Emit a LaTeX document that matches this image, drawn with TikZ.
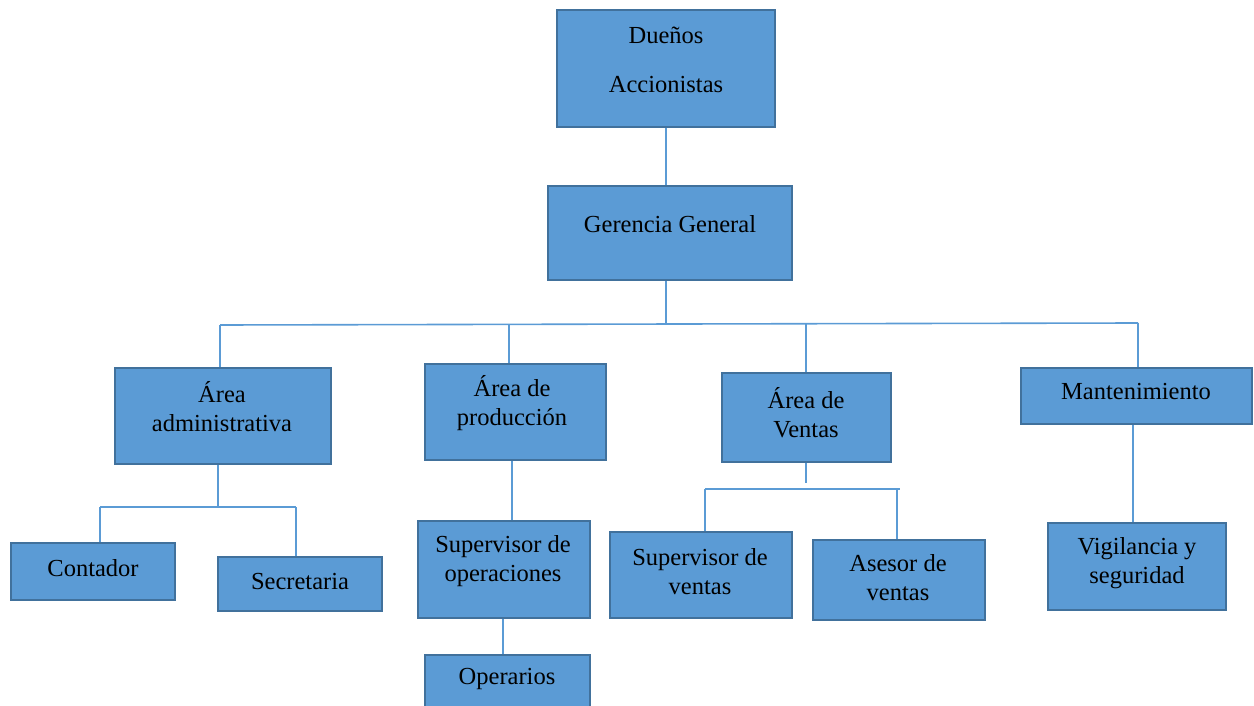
\documentclass[tikz,border=0pt]{standalone}
\usepackage{fontspec}
\setmainfont{Liberation Serif}
\definecolor{boxfill}{HTML}{5B9BD5}
\definecolor{boxline}{HTML}{41719C}
\definecolor{conn}{HTML}{5B9BD5}
\tikzset{
  orgbox/.style={draw=boxline, fill=boxfill, line width=1.5pt, inner sep=0pt, rectangle},
  lbl/.style={font=\fontsize{24.5}{29}\selectfont, align=center, inner sep=0pt, text=black},
  link/.style={draw=conn, line width=1.6pt}
}
\begin{document}
\begin{tikzpicture}[x=1pt,y=-1pt]
\useasboundingbox (0,0) rectangle (1254,706);
% boxes
\node[orgbox, minimum width=218pt, minimum height=117pt] (own) at (666,68.5) {};
\node[orgbox, minimum width=244pt, minimum height=94pt] (gg) at (670,233) {};
\node[orgbox, minimum width=216pt, minimum height=96pt] (adm) at (223,416) {};
\node[orgbox, minimum width=181pt, minimum height=96pt] (prod) at (515.5,412) {};
\node[orgbox, minimum width=169pt, minimum height=89pt] (ven) at (806.5,417.5) {};
\node[orgbox, minimum width=231pt, minimum height=56pt] (man) at (1136.5,396) {};
\node[orgbox, minimum width=164pt, minimum height=57pt] (cont) at (93,571.5) {};
\node[orgbox, minimum width=164pt, minimum height=54pt] (sec) at (300,584) {};
\node[orgbox, minimum width=172pt, minimum height=97pt] (sop) at (504,569.5) {};
\node[orgbox, minimum width=165pt, minimum height=57pt] (opr) at (507.5,683.5) {};
\node[orgbox, minimum width=182pt, minimum height=86pt] (sven) at (701,575) {};
\node[orgbox, minimum width=172pt, minimum height=80pt] (ase) at (899,580) {};
\node[orgbox, minimum width=178pt, minimum height=87pt] (vig) at (1137,566.5) {};
% labels
\node[lbl] (townl) at (666,59.5) {Dueños\\[20pt]Accionistas};
\node[lbl] (tgg) at (670,224) {Gerencia General};
\node[lbl] (tadm) at (222,406.5) {Área\\administrativa};
\node[lbl] (tprod) at (512,403) {Área de\\producción};
\node[lbl] (tven) at (806,412.5) {Área de\\Ventas};
\node[lbl] (tman) at (1136,392) {Mantenimiento};
\node[lbl] (tcont) at (93,568) {Contador};
\node[lbl] (tsec) at (300,582) {Secretaria};
\node[lbl] (tsop) at (503,561.5) {Supervisor de\\operaciones};
\node[lbl] (topr) at (507,679) {Operarios};
\node[lbl] (tsven) at (700,571.5) {Supervisor de\\ventas};
\node[lbl] (tase) at (898,577.5) {Asesor de\\ventas};
\node[lbl] (tvig) at (1137,563.5) {Vigilancia y\\seguridad};
% connector points
\coordinate (xg) at (666,0);
\coordinate (bus) at (666,324);
\coordinate (busL) at (220,325);
\coordinate (busR) at (1138,323);
\coordinate (bp) at (509,324);
\coordinate (bv) at (806,323.5);
\coordinate (ja) at (218,507);
\coordinate (jaL) at (100,507);
\coordinate (jaR) at (296,507);
\coordinate (xp) at (512,0);
\coordinate (xs) at (503,0);
\coordinate (jv) at (806,489);
\coordinate (jvL) at (705,489);
\coordinate (jvR) at (900,489);
\coordinate (jvR2) at (897,489);
\coordinate (xm) at (1133,0);
% connectors
\draw[link] (own.south -| xg) -- (gg.north -| xg);
\draw[link] (gg.south -| xg) -- (bus);
\draw[link] (busL) -- (busR);
\draw[link] (busL) -- (adm.north -| busL);
\draw[link] (bp) -- (prod.north -| bp);
\draw[link] (bv) -- (ven.north -| bv);
\draw[link] (busR) -- (man.north -| busR);
\draw[link] (adm.south -| ja) -- (ja);
\draw[link] (jaL) -- (jaR);
\draw[link] (jaL) -- (cont.north -| jaL);
\draw[link] (jaR) -- (sec.north -| jaR);
\draw[link] (prod.south -| xp) -- (sop.north -| xp);
\draw[link] (sop.south -| xs) -- (opr.north -| xs);
\draw[link] (ven.south -| jv) -- ([yshift=6pt]jv);
\draw[link] (jvL) -- (jvR);
\draw[link] (jvL) -- (sven.north -| jvL);
\draw[link] (jvR2) -- (ase.north -| jvR2);
\draw[link] (man.south -| xm) -- (vig.north -| xm);
\end{tikzpicture}
\end{document}
